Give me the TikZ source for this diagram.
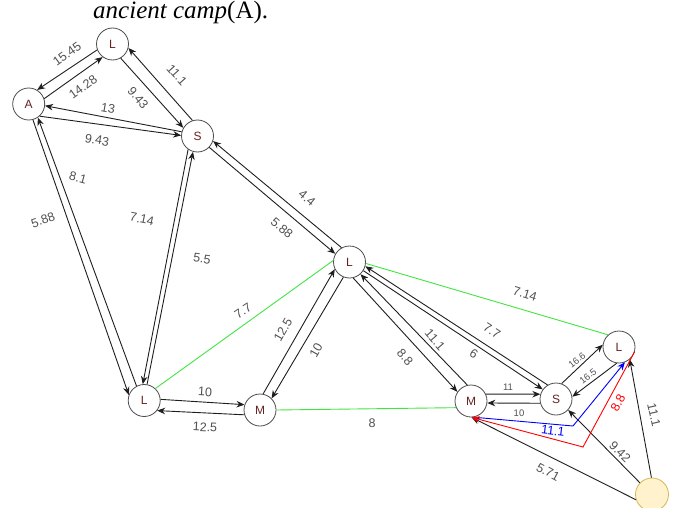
\documentclass[tikz,border=0pt]{standalone}
\usepackage{fontspec}
\setmainfont{Liberation Serif}
\setsansfont{Liberation Sans}
\usetikzlibrary{arrows.meta,calc}
\definecolor{nodetext}{RGB}{102,34,34}
\definecolor{lbl}{RGB}{80,80,80}
\definecolor{grn}{RGB}{64,230,64}
\definecolor{yfill}{RGB}{255,242,204}
\definecolor{ydraw}{RGB}{214,182,86}
\definecolor{edgecol}{RGB}{30,30,30}
\begin{document}
\begin{tikzpicture}[x=1pt,y=-1pt,
  vert/.style={circle,draw=black!70,fill=white,line width=0.8pt,minimum size=32pt,inner sep=0pt,
    font=\sffamily\fontsize{12}{12}\selectfont,text=nodetext},
  ynode/.style={circle,draw=ydraw,fill=yfill,line width=0.8pt,minimum size=33pt,inner sep=0pt},
  arr/.style={draw=edgecol,line width=0.9pt,-{Stealth[length=8pt,width=6.5pt]}},
  gline/.style={draw=grn,line width=0.9pt},
  lab/.style={font=\sffamily\fontsize{12.5}{12.5}\selectfont,text=lbl,inner sep=0pt},
  slab/.style={font=\sffamily\fontsize{9.5}{9.5}\selectfont,text=lbl,inner sep=0pt}]
\useasboundingbox (0,0) rectangle (674,508);

\node[font=\fontsize{25}{25}\selectfont,anchor=base west,inner sep=0pt] (title) at (93,18.5) {\textit{ancient camp}(A).};

\node[vert] (A)  at (28.7,104) {A};
\node[vert] (Lt) at (112.5,44) {L};
\node[vert] (St) at (197.5,136) {S};
\node[vert] (Lm) at (349.5,262) {L};
\node[vert] (Lb) at (144.2,400.5) {L};
\node[vert] (Ml) at (260,410) {M};
\node[vert] (Mr) at (471,401) {M};
\node[vert] (Sr) at (556,399) {S};
\node[vert] (Lr) at (619,347) {L};
\node[ynode] (Y) at (652,494.5) {};

\coordinate (bc) at (573,426);
\coordinate (rc) at (583,447);

% green undirected links
\draw[gline] (Lb.47) -- (Lm.175);
\draw[gline] (Ml.0) -- (Mr.-156);
\draw[gline] (Lm.-5) -- (Lr.132);

% directed pairs
\draw[arr] (A.19) -- (Lt.233);
\draw[arr] (Lt.201) -- (A.59);
\draw[arr] (Lt.-60) -- (St.150);
\draw[arr] (St.108) -- (Lt.-14);
\draw[arr] (A.-48) -- (St.178);
\draw[arr] (St.165) -- (A.-6);
\draw[arr] (A.-75) -- (Lb.160);
\draw[arr] (Lb.118) -- (A.-56);
\draw[arr] (St.-125) -- (Lb.95);
\draw[arr] (Lb.80) -- (St.-106);
\draw[arr] (St.-44) -- (Lm.150);
\draw[arr] (Lm.119) -- (St.-18);
\draw[arr] (Ml.79) -- (Lm.-154);
\draw[arr] (Lm.-112) -- (Ml.45);
\draw[arr] (Lb.4) -- (Ml.161);
\draw[arr] (Ml.-163) -- (Lb.-38);
\draw[arr] (Lm.-77) -- (Mr.146);
\draw[arr] (Mr.103) -- (Lm.-48);
\draw[arr] (Lm.-32) -- (Sr.144);
\draw[arr] (Sr.121) -- (Lm.-15);
\draw[arr] (Mr.25) -- (Sr.163);
\draw[arr] (Sr.-165) -- (Mr.-7);
\draw[arr] (Sr.70) -- (Lr.172);
\draw[arr] (Lr.-98) -- (Sr.8);
\draw[arr] (Y.-162) -- (Mr.-88);
\draw[arr] (Y.136) -- (Sr.-42);
\draw[arr] (Y.92) -- (Lr.-49);

% coloured paths
\draw[arr,draw=blue] (Mr.-81) -- (bc) -- (Lr.-69);
\draw[arr,draw=red] (Lr.-16) -- (rc) -- (Mr.-88);

% labels
\node[lab,rotate=36] (l1) at (67,54) {15.45};
\node[lab,rotate=36] (l2) at (83,87) {14.28};
\node[lab,rotate=-48] (l3) at (177,75) {11.1};
\node[lab,rotate=-50] (l4) at (138,98) {9.43};
\node[lab,rotate=-10] (l5) at (108,108) {13};
\node[lab,rotate=-10] (l6) at (97,140) {9.43};
\node[lab,rotate=-15] (l7) at (78,178) {8.1};
\node[lab,rotate=20] (l8) at (43,220) {5.88};
\node[lab,rotate=-12] (l9) at (142,219) {7.14};
\node[lab,rotate=-8] (l10) at (202,259) {5.5};
\node[lab,rotate=-40] (l11) at (307,198) {4.4};
\node[lab,rotate=-40] (l12) at (282,228) {5.88};
\node[lab,rotate=34] (l13) at (243,311) {7.7};
\node[lab,rotate=60] (l14) at (283,330) {12.5};
\node[lab,rotate=60] (l15) at (316,350) {10};
\node[lab,rotate=-3] (l16) at (205,392) {10};
\node[lab,rotate=-3] (l17) at (205,427) {12.5};
\node[lab] (l18) at (372,423) {8};
\node[lab,rotate=-49] (l19) at (405,357) {8.8};
\node[lab,rotate=-49] (l20) at (435,340) {11.1};
\node[lab,rotate=-33] (l21) at (492,331) {7.7};
\node[lab,rotate=-33] (l22) at (474,354) {6};
\node[lab,rotate=-17] (l23) at (525,294) {7.14};
\node[slab] (l24) at (508,387) {11};
\node[slab] (l25) at (519,413) {10};
\node[slab,rotate=38] (l26) at (577,360) {16.6};
\node[slab,rotate=38] (l27) at (588,376) {16.5};
\node[lab,text=blue,rotate=-7] (l28) at (553,431) {11.1};
\node[lab,text=red,rotate=62] (l29) at (618,403) {8.8};
\node[lab,rotate=-45] (l30) at (620,452) {9.42};
\node[lab,rotate=-77] (l31) at (654,415) {11.1};
\node[lab,rotate=-28] (l32) at (548,472) {5.71};
\end{tikzpicture}
\end{document}
